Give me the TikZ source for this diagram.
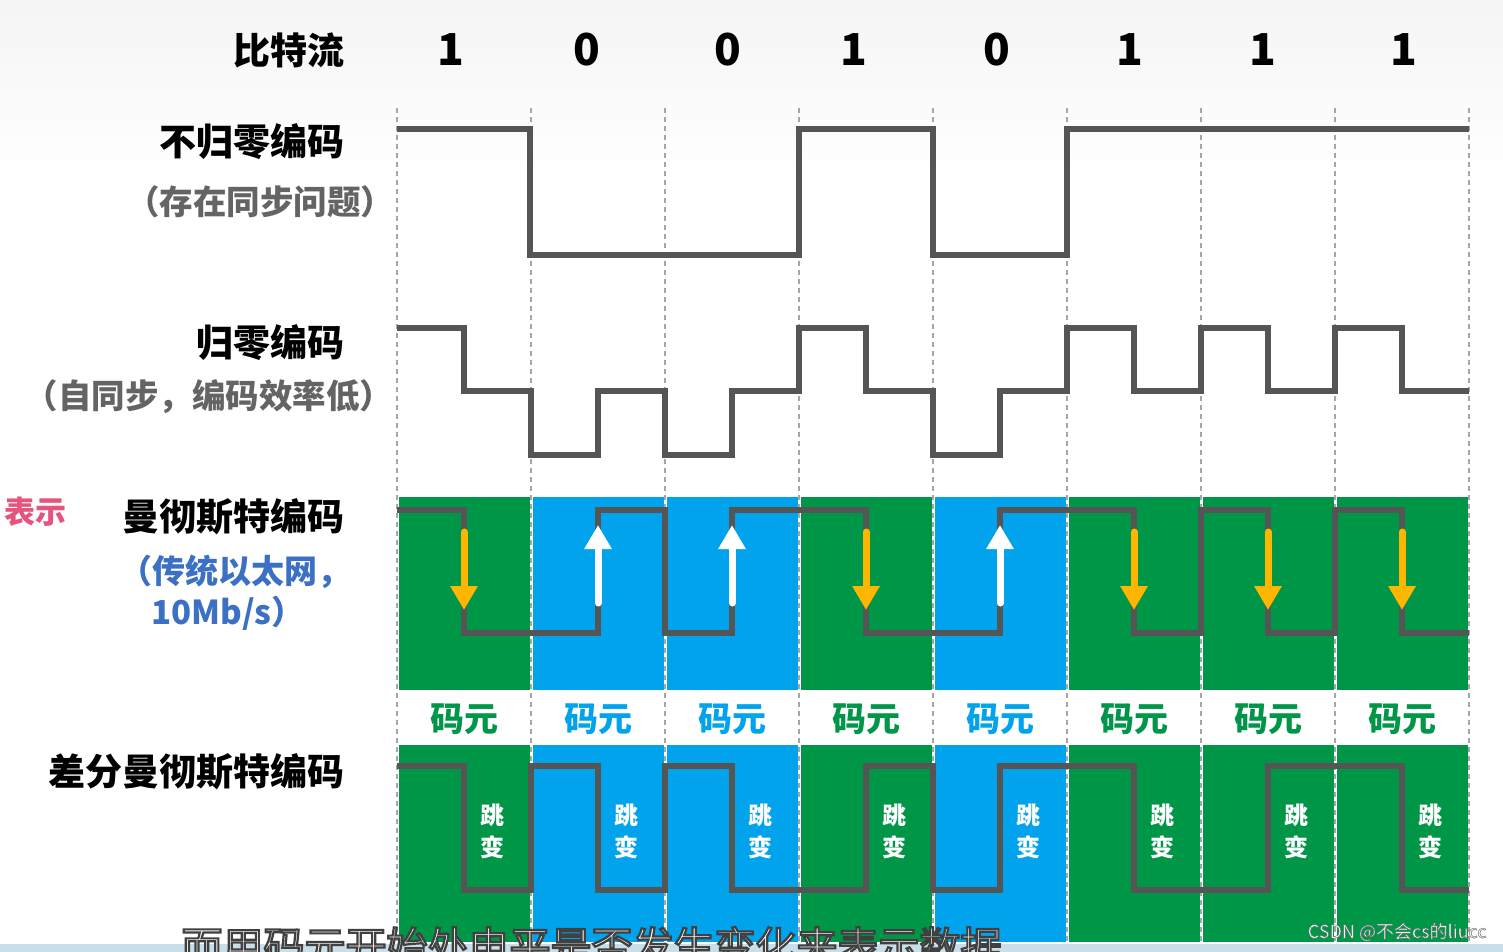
\documentclass[tikz,border=0pt]{standalone}
\usepackage{fontspec}
\setmainfont{Noto Sans CJK SC}
\usetikzlibrary{arrows.meta}

\definecolor{onegreen}{RGB}{0,150,72}
\definecolor{zeroblue}{RGB}{0,163,236}
\definecolor{wavegray}{RGB}{85,85,85}
\definecolor{notegray}{RGB}{100,100,100}
\definecolor{noteblue}{RGB}{60,112,196}
\definecolor{arroworange}{RGB}{255,182,0}
\definecolor{hintpink}{RGB}{228,84,124}
\definecolor{bandblue}{RGB}{200,222,232}

% white letters with a dark rim (width, grey level, text)
\newcommand{\rimtext}[3]{\special{pdf:literal direct 2 Tr #1 w #2 G}#3\special{pdf:literal direct 0 Tr}}

\begin{document}
\begin{tikzpicture}[
    x=1pt, y=-1pt,
    wave/.style={draw=wavegray, line width=6pt},
    title/.style={anchor=east, font=\bfseries\fontsize{37}{40}\selectfont},
    note/.style={anchor=east, text=notegray, font=\bfseries\fontsize{33.5}{38}\selectfont},
    bluenote/.style={text=noteblue, font=\bfseries\fontsize{33}{37}\selectfont},
    bitlabel/.style={font=\bfseries\fontsize{44}{48}\selectfont},
    grid/.style={draw=gray!70, line width=1.2pt, dash pattern=on 5pt off 4pt},
    symlabel/.style={font=\bfseries\fontsize{34}{38}\selectfont},
    jumplabel/.style={text=white, align=center, font=\bfseries\fontsize{24}{32}\selectfont},
    downarrow/.style={draw=arroworange, line width=7pt, line cap=round, -{Triangle[width=26pt,length=24pt]}},
    uparrow/.style={draw=white, line width=7pt, line cap=round, -{Triangle[width=26pt,length=24pt]}},
    subtitle/.style={anchor=west, text=white, font=\fontsize{41}{44}\selectfont},
    watermark/.style={anchor=east, text=white, font=\fontsize{18}{20}\selectfont}
]
\useasboundingbox (0,0) rectangle (1503,952);
\fill[white] (0,0) rectangle (1503,952);
\shade[top color=gray!8, bottom color=white] (0,0) rectangle (1503,180);

% row titles
\node[title] (bsname) at (348,50) {比特流};
\node[title] (nrzname) at (348,142) {不归零编码};
\node[note] (nrznote) at (398,202) {（存在同步问题）};
\node[title] (rzname) at (348,343) {归零编码};
\node[note] (rznote) at (397,397) {（自同步，编码效率低）};
\node[title] (mcname) at (348,517) {曼彻斯特编码};
\node[bluenote] (mcnote1) at (235,572) {（传统以太网，};
\node[bluenote] (mcnote2) at (228,613) {10Mb/s）};
\node[title] (dmname) at (348,772) {差分曼彻斯特编码};
\node[anchor=east, text=hintpink, font=\bfseries\fontsize{31}{34}\selectfont] (hint) at (70,512) {表示};

% bit values
\foreach \b/\x [count=\i] in {1/451,0/587,0/728,1/854,0/997,1/1130,1/1263,1/1404}
    \node[bitlabel] (bit\i) at (\x,50) {\b};

% coloured blocks, symbol labels
\foreach \b [count=\i from 0] in {1,0,0,1,0,1,1,1} {
    \ifnum\b=1 \def\bitcol{onegreen}\else \def\bitcol{zeroblue}\fi
    \fill[\bitcol] ({398.5+134*\i},497) rectangle ({529.5+134*\i},690);
    \fill[\bitcol] ({398.5+134*\i},745) rectangle ({529.5+134*\i},942);
    \node[symlabel, text=\bitcol] (sym\i) at ({464+134*\i},719) {码元};
    \node[jumplabel] (jump\i) at ({492+134*\i},831) {跳\\变};
}

% grid
\foreach \i in {0,...,8}
    \draw[grid] ({397+134*\i},108) -- ({397+134*\i},942);

% NRZ
\draw[wave] (397,129) -- (530,129) -- (530,255) -- (799,255) -- (799,129)
    -- (933,129) -- (933,255) -- (1067,255) -- (1067,129) -- (1469,129);

% RZ
\draw[wave] (397,328) \foreach \l [count=\i from 0] in {328,455,455,328,455,328,328,328} {
    -- ({397+134*\i},\l) -- ({464+134*\i},\l) -- ({464+134*\i},391) -- ({531+134*\i},391) };

% Manchester
\draw[wave] (397,510) \foreach \f/\s [count=\i from 0] in {510/633,633/510,633/510,510/633,633/510,510/633,510/633,510/633} {
    -- ({397+134*\i},\f) -- ({464+134*\i},\f) -- ({464+134*\i},\s) -- ({531+134*\i},\s) };

% differential Manchester
\draw[wave] (397,766) \foreach \f/\s [count=\i from 0] in {766/890,766/890,766/890,890/766,890/766,766/890,890/766,766/890} {
    -- ({397+134*\i},\f) -- ({464+134*\i},\f) -- ({464+134*\i},\s) -- ({531+134*\i},\s) };

% transition arrows
\foreach \b [count=\i from 0] in {1,0,0,1,0,1,1,1} {
    \ifnum\b=1
        \draw[downarrow] ({464+134*\i},532) -- ({464+134*\i},610);
    \else
        \draw[uparrow] ({464+134*\i},603) -- ({464+134*\i},525);
    \fi
}

% player overlay
\fill[bandblue] (0,944) rectangle (1503,952);
\node[subtitle] (sub) at (178,946) {\rimtext{2.2}{0.25}{而用码元开始处电平是否发生变化来表示数据}};
\node[watermark] (wm) at (1490,932) {\rimtext{0.45}{0.4}{CSDN @不会cs的liucc}};
\end{tikzpicture}
\end{document}
